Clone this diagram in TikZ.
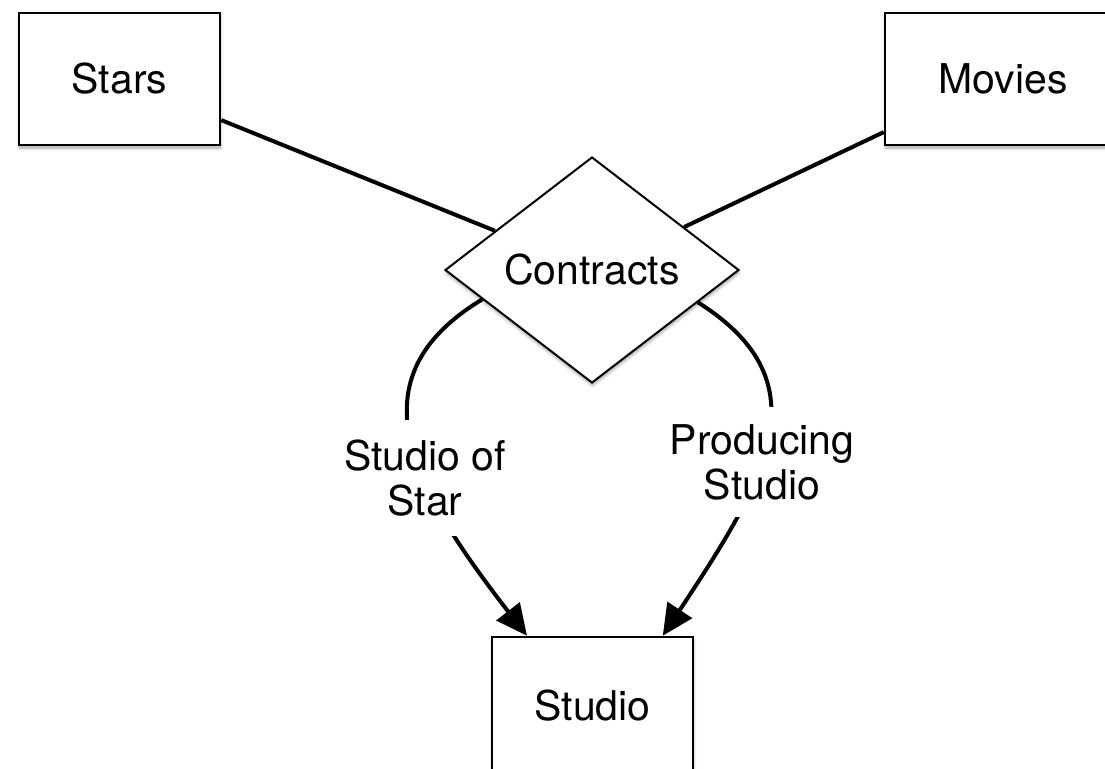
\documentclass[tikz,border=0pt]{standalone}
\usepackage{fontspec}
\setmainfont{TeX Gyre Heros}
\usetikzlibrary{shapes.geometric,arrows.meta,shadows.blur}
\begin{document}
\begin{tikzpicture}[x=1pt,y=-1pt,
  every node/.style={font=\fontsize{41}{45}\selectfont},
  softshadow/.style={blur shadow={shadow xshift=0.5pt, shadow yshift=-3pt,
      shadow blur radius=3pt, shadow opacity=35}},
  entity/.style={draw, line width=2.5pt, fill=white, inner sep=0pt,
      minimum width=201pt, minimum height=132pt, softshadow},
  relation/.style={diamond, draw, line width=2pt, fill=white, inner sep=0pt,
      minimum width=294pt, minimum height=226pt, softshadow},
  link/.style={line width=4pt},
  role/.style={link, -{Triangle[length=31pt,width=29pt]}},
  rolelabel/.style={fill=white, align=center, inner xsep=4pt, inner ysep=20pt}]
\useasboundingbox (0,0) rectangle (1105,768);
\clip (0,0) rectangle (1105,768);

% entity sets and the relationship
\node[entity] (stars) at (119.5,79) {Stars};
\node[entity, minimum width=236pt] (movies) at (1003,79) {Movies};
\node[entity, minimum height=138pt] (studio) at (592.5,706) {Studio};
\node[relation] (contracts) at (592,270) {Contracts};

% plain connections
\draw[link] (stars.-22) -- (contracts.158);
\draw[link] (movies.-156.6) -- (contracts.25.6);

% role arrows into Studio
\draw[role] (contracts.195.4) .. controls (352,378) and (410,485) .. (studio.133);
\draw[role] (contracts.-17.8) .. controls (826,383) and (765,481) .. (studio.45.5);

% role names, set over the arrows
\node[rolelabel] (ofstar) at (425,478) {Studio of\\Star};
\node[rolelabel, inner ysep=17pt] (producing) at (762,462) {Producing\\Studio};
\end{tikzpicture}
\end{document}
